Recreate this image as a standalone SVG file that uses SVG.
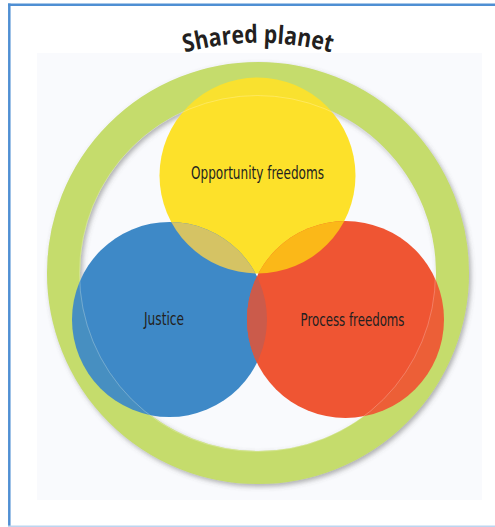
<svg xmlns="http://www.w3.org/2000/svg" width="495" height="527" viewBox="0 0 495 527">
<defs>
<style>
.lbl{font-family:"DejaVu Sans Condensed","Liberation Sans",sans-serif;font-stretch:condensed;font-size:17px;fill:#231f20;text-anchor:middle}
.title{font-family:"Open Sans","DejaVu Sans",sans-serif;font-weight:700;font-size:25px;fill:#231f20}
.ringtint{fill:none;stroke:#c5dc6c;stroke-width:33;stroke-opacity:0.07}
</style>
<filter id="shadow" x="-10%" y="-10%" width="120%" height="120%">
<feDropShadow dx="2" dy="2.5" stdDeviation="2.5" flood-color="#555" flood-opacity="0.45"/>
</filter>
<clipPath id="clipY"><circle cx="257.5" cy="175.5" r="98"/></clipPath>
<clipPath id="clipB"><circle cx="169.5" cy="319.5" r="97.5"/></clipPath>
<path id="arc" d="M 170,57 A 280 280 0 0 1 346,57"/>
</defs>
<rect width="495" height="527" fill="#ffffff"/>
<rect x="37" y="53" width="445" height="447" fill="#f9fafd"/>
<g id="frame">
<line x1="8" y1="4.8" x2="495" y2="4.8" stroke="#4f8fd3" stroke-width="2.5"/>
<line x1="9.3" y1="3.6" x2="9.3" y2="526" stroke="#4f8fd3" stroke-width="2.5"/>
<line x1="8" y1="526.3" x2="495" y2="526.3" stroke="#bcd5f0" stroke-width="1.5"/>
</g>
<g id="title">
<text class="title"><textPath href="#arc" startOffset="50%" text-anchor="middle" textLength="148" lengthAdjust="spacingAndGlyphs">Shared planet</textPath></text>
</g>
<g id="shared-planet">
<circle cx="258" cy="273" r="194.5" fill="none" stroke="#c5dc6c" stroke-width="33" filter="url(#shadow)"/>
</g>
<g id="opportunity-freedoms">
<circle cx="257.5" cy="175.5" r="98" fill="#fde12a"/>
</g>
<g id="justice">
<circle cx="169.5" cy="319.5" r="97.5" fill="#3e89c7"/>
</g>
<g id="process-freedoms">
<circle cx="345.5" cy="319.5" r="98.5" fill="#ef5533"/>
</g>
<g id="overlaps">
<circle cx="169.5" cy="319.5" r="97.5" fill="#d5c364" clip-path="url(#clipY)"/>
<circle cx="345.5" cy="319.5" r="98.5" fill="#fbb818" clip-path="url(#clipY)"/>
<circle cx="345.5" cy="319.5" r="98.5" fill="#cb5b4b" clip-path="url(#clipB)"/>
</g>
<circle class="ringtint" cx="258" cy="273" r="194.5"/>
<circle cx="257.5" cy="273.5" r="178" fill="none" stroke="#ffffff" stroke-opacity="0.3" stroke-width="0.8"/>
<g id="labels">
<text class="lbl" x="257.5" y="179" textLength="133" lengthAdjust="spacingAndGlyphs">Opportunity freedoms</text>
<text class="lbl" x="164" y="325" textLength="40" lengthAdjust="spacingAndGlyphs">Justice</text>
<text class="lbl" x="352.5" y="326" textLength="104" lengthAdjust="spacingAndGlyphs">Process freedoms</text>
</g>
</svg>
